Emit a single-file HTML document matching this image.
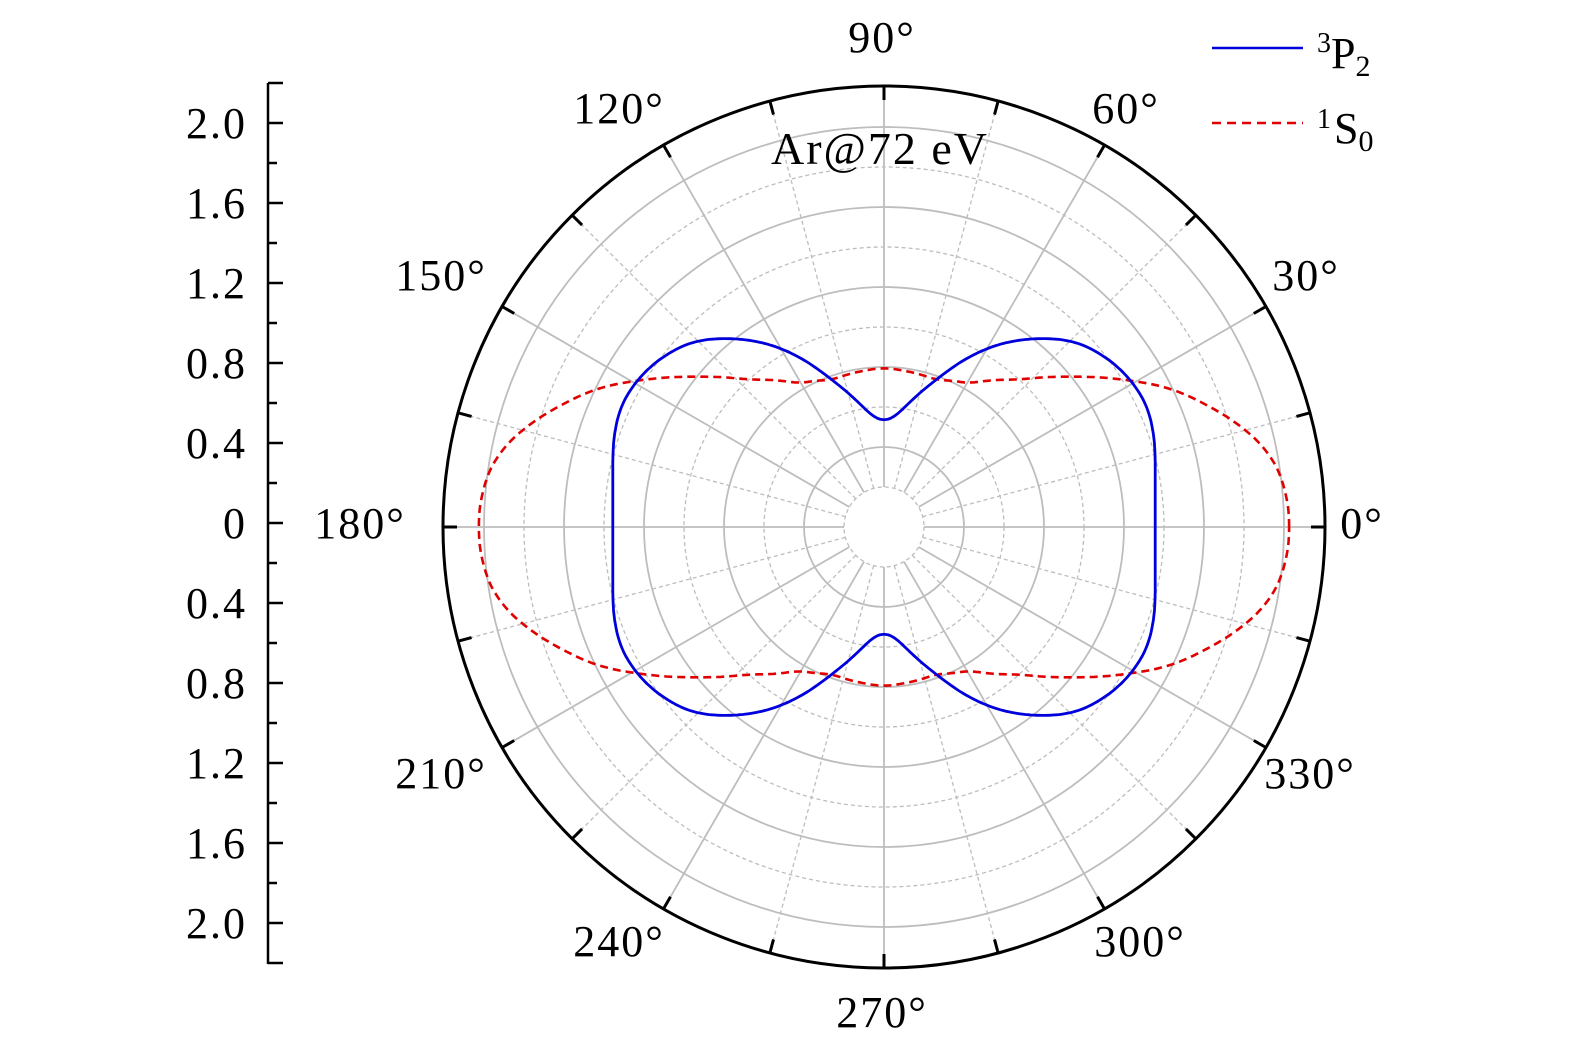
<!DOCTYPE html>
<html><head><meta charset="utf-8"><style>
html,body{margin:0;padding:0;background:#fff}
svg text{font-family:"Liberation Serif",serif;fill:#000}
</style></head><body>
<svg id="s" width="1575" height="1053" viewBox="0 0 1575 1053" xmlns="http://www.w3.org/2000/svg">
<g id="grid"></g>
<path id="red" fill="none" stroke="#e00000" stroke-width="2.6" stroke-dasharray="8,5"/>
<path id="blue" fill="none" stroke="#0000dd" stroke-width="2.8"/>
<circle cx="884" cy="527" r="441" fill="none" stroke="#000" stroke-width="3"/>
<g id="ticks" stroke="#000" stroke-width="3"></g>
<g font-size="44" text-anchor="middle" letter-spacing="2">
<text x="882" y="52">90°</text>
<text x="1126" y="123">60°</text>
<text x="619" y="123">120°</text>
<text x="1306" y="290">30°</text>
<text x="441" y="290">150°</text>
<text x="1362" y="538">0°</text>
<text x="360" y="538">180°</text>
<text x="441" y="788">210°</text>
<text x="1310" y="788">330°</text>
<text x="619" y="956">240°</text>
<text x="1140" y="956">300°</text>
<text x="882" y="1027">270°</text>
</g>
<text x="880" y="164" font-size="46" text-anchor="middle" letter-spacing="2">Ar@72 eV</text>
<g stroke="#000" stroke-width="2.5">
<line x1="268" y1="83" x2="268" y2="964"/>
</g>
<g id="lax" stroke="#000" stroke-width="2.5"></g>
<g id="laxt" font-size="44" text-anchor="end" letter-spacing="2"></g>
<line x1="1212" y1="48" x2="1303" y2="48" stroke="#0000dd" stroke-width="2.5"/>
<line x1="1212" y1="123" x2="1303" y2="123" stroke="#e00000" stroke-width="2.5" stroke-dasharray="9,6"/>
<text x="1317" y="52" font-size="28">3</text>
<text x="1331" y="68" font-size="44">P<tspan font-size="30" dy="8">2</tspan></text>
<text x="1317" y="128" font-size="28">1</text>
<text x="1334" y="143" font-size="44">S<tspan font-size="30" dy="8">0</tspan></text>
</svg>
<script>
var NS="http://www.w3.org/2000/svg",cx=884,cy=527;
function el(p,t,a){var e=document.createElementNS(NS,t);for(var k in a)e.setAttribute(k,a[k]);p.appendChild(e);return e;}
var g=document.getElementById("grid");
for(var i=1;i<=10;i++){var r=40*i;el(g,"circle",{cx:cx,cy:cy,r:r,fill:"none",stroke:"#bdbdbd","stroke-width":i%2?1.3:1.8,"stroke-dasharray":i%2?"4,3":"none"});}
for(var a=0;a<360;a+=15){var t=a*Math.PI/180,c=Math.cos(t),s=Math.sin(t);
el(g,"line",{x1:cx+40*c,y1:cy-40*s,x2:cx+441*c,y2:cy-441*s,stroke:"#bdbdbd","stroke-width":a%30?1.3:1.8,"stroke-dasharray":a%30?"4,3":"none"});
el(document.getElementById("ticks"),"line",{x1:cx+427*c,y1:cy-427*s,x2:cx+441*c,y2:cy-441*s});}
var lax=document.getElementById("lax"),laxt=document.getElementById("laxt");
var labs=["2.0","1.6","1.2","0.8","0.4","0","0.4","0.8","1.2","1.6","2.0"];
for(var k=0;k<=22;k++){var y=83+40*k;var major=(k%2==1);el(lax,"line",{x1:268,y1:y,x2:268+(major||k==0||k==22?15:9),y2:y});}
for(var k=0;k<11;k++){var tx=el(laxt,"text",{x:247,y:123+80*k+15});tx.textContent=labs[k];}
function curve(pts,win){
 function L(th){th=Math.abs(th)%180;if(th>90)th=180-th;
  for(var i=0;i<pts.length-1;i++)if(th<=pts[i+1][0]){var u=(th-pts[i][0])/(pts[i+1][0]-pts[i][0]);return pts[i][1]*(1-u)+pts[i+1][1]*u;}return pts[pts.length-1][1];}
 function R(a){var s=0,n=0;for(var k=-win;k<=win;k+=0.5){s+=L(a+k);n++;}return s/n;}
 var d="";for(var a=0;a<=360;a+=0.5){var r=R(a),t=a*Math.PI/180;
  d+=(a?"L":"M")+(cx+r*Math.cos(t)).toFixed(1)+","+(cy-r*Math.sin(t)).toFixed(1);}return d+"Z";}
var bp=[];for(var d0=0;d0<=16;d0+=2){bp.push([d0,271/Math.cos(d0*Math.PI/180)]);}
bp=bp.concat([[20,286],[24,289],[27.5,289],[30.4,287],[34,284],[38.1,278],[43.9,267],[49.8,247],[57.1,219],[63.2,191],[70.3,156],[78.2,127],[84,111],[90,106]]);
document.getElementById("blue").setAttribute("d",curve(bp,3));
document.getElementById("red").setAttribute("d",curve([[0,406],[5.7,403],[10.8,393],[16.4,368],[21.2,342],[25.9,318],[30.7,286],[38.8,239],[47.2,200],[59.1,167],[70.3,156],[83,157.5],[90,159]],3));
</script>
</body></html>
